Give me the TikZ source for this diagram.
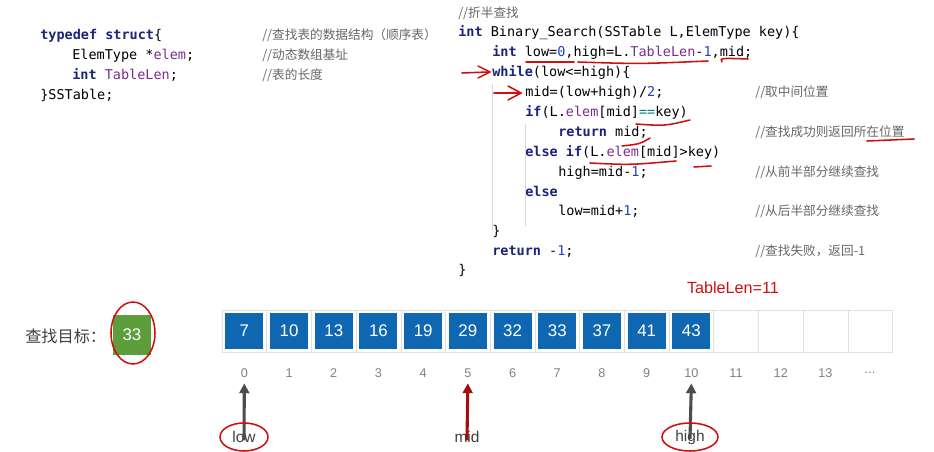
\documentclass[tikz,border=0pt]{standalone}
\usepackage{fontspec}
\setmainfont{Liberation Sans}
\setmonofont{DejaVu Sans Mono}
\newfontfamily\cjk{Noto Sans CJK SC}
\usepackage{tikz}
\usetikzlibrary{arrows.meta}
\definecolor{kwblue}{HTML}{1A237E}
\definecolor{numblue}{HTML}{1E40D0}
\definecolor{fldpurple}{HTML}{7B2D8E}
\definecolor{cmtgray}{HTML}{666666}
\definecolor{cellblue}{HTML}{0F67B1}
\definecolor{keygreen}{HTML}{5E9E3A}
\definecolor{penred}{HTML}{D01010}
\tikzset{
    codeline/.style={anchor=base west, inner sep=0pt, font=\ttfamily\fontsize{9.6}{11}\selectfont}, % 代码行
    cmt/.style={anchor=base west, inner sep=0pt, text=cmtgray, font=\cjk\fontsize{9}{11}\selectfont}, % 注释
    cell/.style={draw=black!12, minimum width=44.7*0.025cm, minimum height=42*0.025cm, inner sep=0pt},
    val/.style={fill=cellblue, text=white, minimum width=38*0.025cm, minimum height=36*0.025cm, inner sep=0pt, font=\fontsize{12}{12}\selectfont},
    idx/.style={text=black!50, font=\fontsize{9}{9}\selectfont, inner sep=1pt},
    ptr/.style={-{Triangle[length=7pt,width=7pt]}, line width=2.2pt},
    pen/.style={penred, line width=1.1pt, line cap=round}
}
\newcommand{\kw}[1]{\textcolor{kwblue}{\textbf{#1}}}
\newcommand{\num}[1]{\textcolor{numblue}{#1}}
\newcommand{\fld}[1]{\textcolor{fldpurple}{#1}}

\begin{document}
\begin{tikzpicture}[x=0.025cm, y=-0.025cm]
    \useasboundingbox (0,0) rectangle (934,452);

    % 左侧结构体定义
    \node[codeline] (s1) at (40,40) {\kw{typedef} \kw{struct}\{};
    \node[codeline] (s2) at (72,60) {ElemType *\fld{elem};};
    \node[codeline] (s3) at (72,80) {\kw{int} \fld{TableLen};};
    \node[codeline] (s4) at (40,100) {\}SSTable;};
    \node[cmt] at (262,40) {//查找表的数据结构（顺序表）};
    \node[cmt] at (262,60) {//动态数组基址};
    \node[cmt] at (262,80) {//表的长度};

    % 右侧折半查找代码
    \node[cmt] at (458,18) {//折半查找};
    \node[codeline] at (458,37) {\kw{int} Binary\_Search(SSTable L,ElemType key)\{};
    \node[codeline] at (492,57) {\kw{int} low=\num{0},high=L.\fld{TableLen}-\num{1},mid;};
    \node[codeline] at (492,77) {\kw{while}(low<=high)\{};
    \node[codeline] at (525,97) {mid=(low+high)/\num{2};};
    \node[codeline] at (525,117) {\kw{if}(L.\fld{elem}[mid]\textcolor{teal}{==}key)};
    \node[codeline] at (558,137) {\kw{return}  mid;};
    \node[codeline] at (525,157) {\kw{else} \kw{if}(L.\fld{elem}[mid]>key)};
    \node[codeline] at (558,177) {high=mid-\num{1};};
    \node[codeline] at (525,197) {\kw{else}};
    \node[codeline] at (558,216) {low=mid+\num{1};};
    \node[codeline] at (492,236) {\}};
    \node[codeline] at (492,256) {\kw{return}  -\num{1};};
    \node[codeline] at (458,275) {\}};
    \node[cmt] at (755,97) {//取中间位置};
    \node[cmt] at (755,137) {//查找成功则返回所在位置};
    \node[cmt] at (755,177) {//从前半部分继续查找};
    \node[cmt] at (755,216) {//从后半部分继续查找};
    \node[cmt] at (755,256) {//查找失败，返回-\textit{1}};
    \draw[black!15] (492,84) -- (492,230);
    \draw[black!15] (525,124) -- (525,226);

    % 红笔标注
    \draw[pen] (526,62) -- (574,62);
    \draw[pen] (578,62) .. controls (640,64) .. (708,61);
    \draw[pen] (722,62) .. controls (720,58) .. (748,59);
    \draw[pen] (462,73) -- (488,72);
    \draw[pen] (478,66) -- (490,72) -- (478,78);
    \draw[pen] (494,93) -- (520,93);
    \draw[pen] (508,86) -- (521,93) -- (508,100);
    \draw[pen] (636,124) .. controls (665,126) .. (690,120);
    \draw[pen] (622,146) .. controls (640,144) .. (650,138);
    \draw[pen] (867,141) -- (914,139);
    \draw[pen] (590,163) .. controls (630,165) .. (676,161);
    \draw[pen] (694,167) -- (711,166);

    % 查找目标
    \node[font=\cjk\fontsize{11.5}{12}\selectfont, text=black!75, anchor=west, inner sep=0pt] (goal) at (25,336) {查找目标：};
    \node[fill=keygreen, text=white, minimum width=38*0.025cm, minimum height=40*0.025cm, inner sep=0pt, font=\fontsize{12}{12}\selectfont] (key) at (132,335) {33};
    \draw[pen] (133,333) ellipse [x radius=22, y radius=31];

    % 顺序表
    \foreach \v [count=\i from 0] in {7,10,13,16,19,29,32,33,37,41,43,,,,} {
        \node[cell] (c\i) at (244.35+\i*44.7,331) {};
    }
    \foreach \v [count=\i from 0] in {7,10,13,16,19,29,32,33,37,41,43} {
        \node[val] (v\i) at (c\i) {\v};
    }
    \foreach \i in {0,...,13} {
        \node[idx] (i\i) at (244.35+\i*44.7,373) {\i};
    }
    \node[idx] (i14) at (870,373) {...};
    \node[text=penred, font=\fontsize{11.5}{12}\selectfont] (len) at (733,288) {TableLen=11};

    % 指针
    \node[text=black!75, font=\fontsize{11}{12}\selectfont] (low) at (244,437) {low};
    \node[text=black!75, font=\fontsize{11}{12}\selectfont] (mid) at (467,437) {mid};
    \node[text=black!75, font=\fontsize{11}{12}\selectfont] (high) at (690,437) {high};
    \draw[ptr, black!70] ([yshift=-10pt]low.north) -- ([yshift=-3pt]i0.south);
    \draw[ptr, penred!80!black] ([yshift=-10pt]mid.north) -- ([yshift=-3pt]i5.south);
    \draw[ptr, black!70] ([yshift=-10pt]high.north) -- ([yshift=-3pt]i10.south);
    \draw[pen] (low) ellipse [x radius=24, y radius=14];
    \draw[pen] (high) ellipse [x radius=28, y radius=14];
\end{tikzpicture}
\end{document}
